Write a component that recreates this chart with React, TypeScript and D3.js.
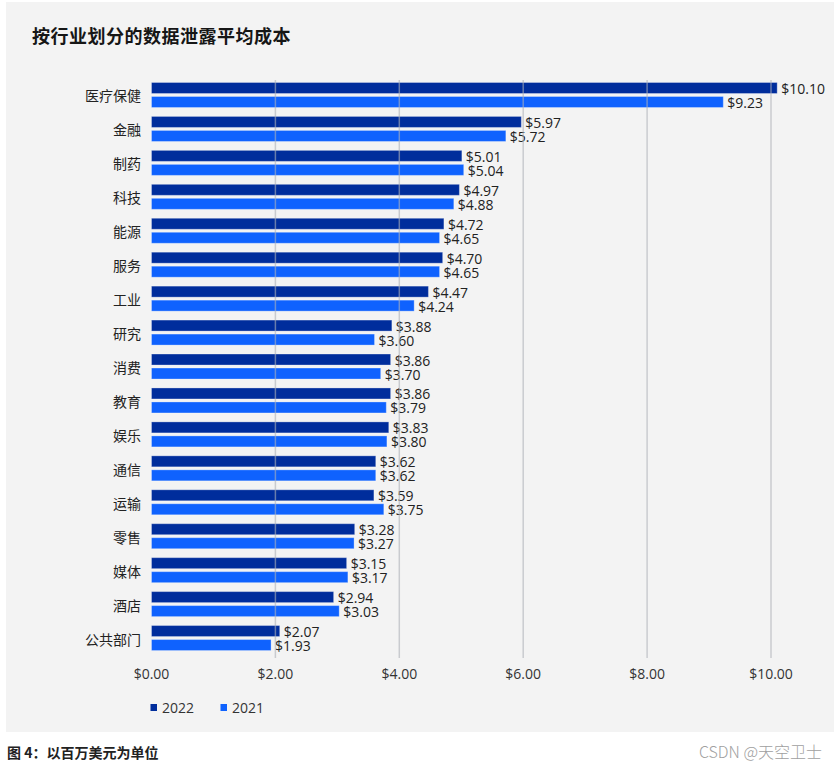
import React from "react";
import * as d3 from "d3";

const categories = ["医疗保健", "金融", "制药", "科技", "能源", "服务", "工业", "研究", "消费", "教育", "娱乐", "通信", "运输", "零售", "媒体", "酒店", "公共部门"];
const values2022 = [10.10, 5.97, 5.01, 4.97, 4.72, 4.70, 4.47, 3.88, 3.86, 3.86, 3.83, 3.62, 3.59, 3.28, 3.15, 2.94, 2.07];
const values2021 = [9.23, 5.72, 5.04, 4.88, 4.65, 4.65, 4.24, 3.60, 3.70, 3.79, 3.80, 3.62, 3.75, 3.27, 3.17, 3.03, 1.93];
const seriesNames = ["2022", "2021"];
const seriesColors = ["#002d9c", "#0f62fe"];
const xTicks = [0, 2, 4, 6, 8, 10];

const W = 835;
const H = 770;
const latin = "'Open Sans', 'Noto Sans', sans-serif";
const cjk = "'Noto Sans CJK SC', 'Noto Sans', sans-serif";

export default function App() {
  const x = d3.scaleLinear().domain([0, 10]).range([151.5, 771]);
  const y = d3.scaleBand<string>().domain(categories).range([78, 78 + 17 * 33.94]).padding(0);
  const yInner = d3.scaleBand<string>().domain(seriesNames).range([4.5, 29.5]).paddingInner(0.2143);
  const series = [values2022, values2021];
  const fmt = (v: number) => "$" + d3.format(".2f")(v);

  return (
    <svg width={W} height={H} style={{ position: "absolute", left: 0, top: 0, background: "#ffffff" }}>
      <rect x={6} y={2} width={828} height={730} fill="#f3f3f3" />
      <text x={32} y={43} fontFamily={cjk} fontSize={18} fontWeight={700} fill="#161616" letterSpacing={0.5}>
        按行业划分的数据泄露平均成本
      </text>

      {categories.map((c, i) => (
        <g key={c} transform={`translate(0,${y(c)})`}>
          <text x={141} y={y.bandwidth() / 2 + 0.5} textAnchor="end" dominantBaseline="central" fontFamily={cjk} fontSize={14} fill="#222">
            {c}
          </text>
          {seriesNames.map((s, j) => {
            const v = series[j][i];
            const by = yInner(s)!;
            return (
              <g key={s}>
                <rect x={x(0)} y={by} width={x(v) - x(0)} height={yInner.bandwidth()} fill={seriesColors[j]} stroke="rgba(255,255,255,0.3)" strokeWidth={1} />
                <text x={x(v) + 4} y={by + yInner.bandwidth() / 2 + 0.5} dominantBaseline="central" fontFamily={latin} fontSize={14} fill="#222">
                  {fmt(v)}
                </text>
              </g>
            );
          })}
        </g>
      ))}

      {xTicks.filter((t) => t > 0).map((t) => (
        <line key={t} x1={x(t)} x2={x(t)} y1={80} y2={658} stroke="#adb0b8" strokeOpacity={0.6} strokeWidth={1.5} />
      ))}

      {xTicks.map((t) => (
        <text key={t} x={x(t)} y={673} textAnchor="middle" dominantBaseline="central" fontFamily={latin} fontSize={14} fill="#333">
          {fmt(t)}
        </text>
      ))}

      {seriesNames.map((s, j) => (
        <g key={s} transform={`translate(${150.5 + j * 70},0)`}>
          <rect x={0} y={704} width={6.5} height={7} fill={seriesColors[j]} />
          <text x={11.5} y={707} dominantBaseline="central" fontFamily={latin} fontSize={14} fill="#333">
            {s}
          </text>
        </g>
      ))}

      <text x={7} y={758} fontFamily={cjk} fontSize={14} fontWeight={700} fill="#222">
        图 4：以百万美元为单位
      </text>
      <text x={822} y={758} textAnchor="end" fontFamily={cjk} fontSize={16} fontWeight={300} fill="#a0a0a0">
        CSDN @天空卫士
      </text>
    </svg>
  );
}
